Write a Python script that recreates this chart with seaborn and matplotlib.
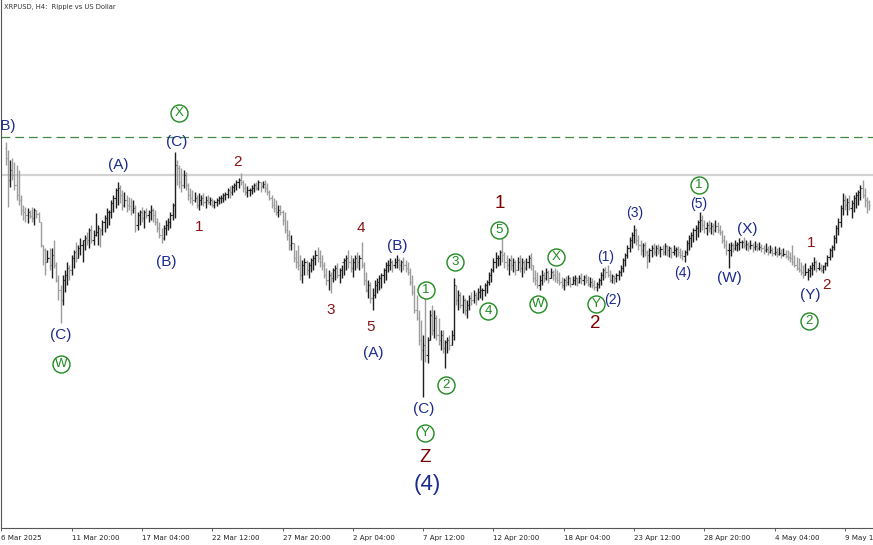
import numpy as np
import matplotlib
matplotlib.use("Agg")
import matplotlib.pyplot as plt
import seaborn as sns

# ---------------- data (XRPUSD H4) ----------------
title = "XRPUSD, H4:  Ripple vs US Dollar"
tick_labels = ["6 Mar 2025", "11 Mar 20:00", "17 Mar 04:00", "22 Mar 12:00",
               "27 Mar 20:00", "2 Apr 04:00", "7 Apr 12:00", "12 Apr 20:00",
               "18 Apr 04:00", "23 Apr 12:00", "28 Apr 20:00", "4 May 04:00",
               "9 May 12:00"]
tick_bars = [-2, 30, 62, 94, 126, 158, 190, 222, 254, 286, 318, 350, 382]

first_open = 2.600
high = [
    2.622, 2.590, 2.550, 2.558, 2.542, 2.530, 2.510, 2.410, 2.370, 2.362,
    2.358, 2.350, 2.362, 2.358, 2.350, 2.342, 2.302, 2.210, 2.198, 2.190,
    2.198, 2.198, 2.230, 2.142, 2.090, 2.050, 2.090, 2.110, 2.142, 2.130,
    2.170, 2.190, 2.222, 2.210, 2.238, 2.230, 2.250, 2.262, 2.278, 2.290,
    2.270, 2.338, 2.290, 2.278, 2.310, 2.330, 2.358, 2.350, 2.390, 2.410,
    2.438, 2.462, 2.450, 2.430, 2.422, 2.410, 2.402, 2.398, 2.390, 2.370,
    2.342, 2.350, 2.362, 2.350, 2.358, 2.350, 2.370, 2.358, 2.350, 2.318,
    2.302, 2.278, 2.290, 2.310, 2.318, 2.342, 2.378, 2.582, 2.550, 2.530,
    2.518, 2.510, 2.502, 2.458, 2.438, 2.430, 2.422, 2.410, 2.418, 2.410,
    2.418, 2.406, 2.410, 2.402, 2.398, 2.390, 2.398, 2.406, 2.410, 2.418,
    2.422, 2.438, 2.446, 2.450, 2.458, 2.470, 2.478, 2.498, 2.470, 2.458,
    2.446, 2.438, 2.450, 2.458, 2.462, 2.470, 2.462, 2.466, 2.470, 2.458,
    2.430, 2.410, 2.398, 2.390, 2.370, 2.370, 2.350, 2.342, 2.310, 2.270,
    2.250, 2.218, 2.190, 2.210, 2.170, 2.150, 2.158, 2.150, 2.142, 2.158,
    2.170, 2.190, 2.202, 2.190, 2.170, 2.142, 2.118, 2.110, 2.102, 2.118,
    2.130, 2.138, 2.118, 2.130, 2.158, 2.170, 2.190, 2.170, 2.158, 2.170,
    2.182, 2.170, 2.222, 2.142, 2.102, 2.070, 2.062, 2.038, 2.070, 2.078,
    2.090, 2.098, 2.118, 2.142, 2.150, 2.158, 2.150, 2.158, 2.170, 2.158,
    2.150, 2.162, 2.150, 2.142, 2.118, 2.090, 2.050, 2.010, 1.950, 1.910,
    1.850, 2.002, 1.842, 1.950, 1.970, 1.950, 1.930, 1.918, 1.870, 1.870,
    1.830, 1.842, 1.850, 1.870, 2.078, 2.050, 2.030, 2.022, 2.010, 1.998,
    1.990, 2.010, 2.022, 2.030, 2.022, 2.038, 2.050, 2.038, 2.058, 2.070,
    2.102, 2.118, 2.158, 2.182, 2.170, 2.190, 2.242, 2.182, 2.170, 2.158,
    2.170, 2.158, 2.150, 2.162, 2.170, 2.158, 2.150, 2.158, 2.170, 2.178,
    2.130, 2.110, 2.102, 2.090, 2.110, 2.102, 2.118, 2.110, 2.118, 2.110,
    2.118, 2.110, 2.102, 2.082, 2.078, 2.086, 2.090, 2.082, 2.086, 2.090,
    2.082, 2.090, 2.098, 2.090, 2.094, 2.086, 2.082, 2.078, 2.070, 2.062,
    2.078, 2.102, 2.118, 2.122, 2.130, 2.110, 2.094, 2.090, 2.098, 2.110,
    2.130, 2.158, 2.178, 2.210, 2.242, 2.262, 2.290, 2.278, 2.250, 2.230,
    2.218, 2.222, 2.190, 2.198, 2.210, 2.218, 2.210, 2.214, 2.206, 2.210,
    2.218, 2.210, 2.206, 2.202, 2.210, 2.202, 2.206, 2.198, 2.190, 2.190,
    2.230, 2.250, 2.262, 2.278, 2.290, 2.310, 2.342, 2.330, 2.310, 2.302,
    2.310, 2.302, 2.298, 2.310, 2.302, 2.290, 2.270, 2.250, 2.230, 2.218,
    2.222, 2.218, 2.230, 2.222, 2.238, 2.230, 2.242, 2.230, 2.222, 2.230,
    2.218, 2.226, 2.218, 2.222, 2.214, 2.210, 2.218, 2.206, 2.210, 2.202,
    2.206, 2.198, 2.202, 2.194, 2.198, 2.190, 2.190, 2.182, 2.210, 2.170,
    2.162, 2.158, 2.142, 2.130, 2.138, 2.118, 2.130, 2.142, 2.162, 2.150,
    2.142, 2.134, 2.130, 2.142, 2.170, 2.198, 2.210, 2.250, 2.290, 2.318,
    2.370, 2.418, 2.410, 2.398, 2.410, 2.390, 2.410, 2.422, 2.430, 2.450,
    2.470, 2.438, 2.402, 2.390]
low = [
    2.530, 2.362, 2.442, 2.470, 2.430, 2.390, 2.370, 2.330, 2.310, 2.302,
    2.298, 2.318, 2.302, 2.290, 2.318, 2.302, 2.202, 2.130, 2.090, 2.142,
    2.110, 2.078, 2.118, 2.062, 1.990, 1.898, 1.970, 2.022, 2.050, 2.070,
    2.090, 2.118, 2.142, 2.158, 2.170, 2.142, 2.190, 2.210, 2.198, 2.218,
    2.210, 2.246, 2.210, 2.202, 2.250, 2.262, 2.278, 2.290, 2.318, 2.342,
    2.358, 2.370, 2.378, 2.350, 2.362, 2.342, 2.350, 2.330, 2.338, 2.262,
    2.270, 2.290, 2.302, 2.278, 2.318, 2.302, 2.310, 2.302, 2.290, 2.262,
    2.238, 2.218, 2.230, 2.250, 2.270, 2.278, 2.310, 2.318, 2.450, 2.438,
    2.422, 2.438, 2.430, 2.390, 2.378, 2.370, 2.382, 2.358, 2.350, 2.370,
    2.366, 2.358, 2.374, 2.370, 2.362, 2.358, 2.366, 2.374, 2.378, 2.382,
    2.390, 2.398, 2.398, 2.410, 2.422, 2.430, 2.438, 2.450, 2.422, 2.410,
    2.402, 2.406, 2.414, 2.422, 2.430, 2.430, 2.422, 2.438, 2.422, 2.410,
    2.390, 2.358, 2.342, 2.330, 2.322, 2.330, 2.290, 2.258, 2.230, 2.190,
    2.190, 2.142, 2.118, 2.110, 2.070, 2.058, 2.090, 2.090, 2.078, 2.102,
    2.110, 2.130, 2.142, 2.122, 2.110, 2.078, 2.050, 2.030, 2.018, 2.062,
    2.070, 2.078, 2.058, 2.078, 2.090, 2.110, 2.118, 2.102, 2.082, 2.110,
    2.118, 2.110, 2.118, 2.050, 2.022, 1.998, 1.978, 1.950, 1.998, 2.018,
    2.030, 2.038, 2.058, 2.070, 2.102, 2.110, 2.102, 2.118, 2.118, 2.110,
    2.102, 2.110, 2.102, 2.090, 2.050, 2.010, 1.938, 1.910, 1.810, 1.750,
    1.602, 1.742, 1.738, 1.830, 1.850, 1.838, 1.830, 1.810, 1.790, 1.778,
    1.718, 1.778, 1.790, 1.810, 1.830, 1.970, 1.950, 1.958, 1.938, 1.930,
    1.918, 1.950, 1.970, 1.978, 1.970, 1.990, 1.998, 1.990, 2.006, 2.018,
    2.050, 2.062, 2.102, 2.118, 2.126, 2.130, 2.142, 2.118, 2.110, 2.090,
    2.110, 2.102, 2.090, 2.110, 2.102, 2.082, 2.098, 2.110, 2.118, 2.110,
    2.062, 2.050, 2.038, 2.030, 2.050, 2.062, 2.070, 2.058, 2.078, 2.070,
    2.062, 2.058, 2.050, 2.038, 2.030, 2.046, 2.050, 2.042, 2.054, 2.050,
    2.046, 2.058, 2.054, 2.050, 2.058, 2.046, 2.042, 2.038, 2.030, 2.026,
    2.038, 2.050, 2.070, 2.078, 2.082, 2.062, 2.058, 2.054, 2.062, 2.070,
    2.086, 2.102, 2.126, 2.158, 2.182, 2.198, 2.218, 2.210, 2.190, 2.170,
    2.162, 2.166, 2.118, 2.142, 2.162, 2.170, 2.166, 2.174, 2.162, 2.170,
    2.170, 2.166, 2.162, 2.158, 2.170, 2.162, 2.166, 2.158, 2.150, 2.142,
    2.170, 2.190, 2.202, 2.222, 2.230, 2.242, 2.262, 2.270, 2.258, 2.250,
    2.262, 2.254, 2.250, 2.262, 2.258, 2.250, 2.218, 2.198, 2.170, 2.118,
    2.166, 2.182, 2.190, 2.186, 2.190, 2.198, 2.198, 2.190, 2.186, 2.194,
    2.182, 2.190, 2.186, 2.190, 2.182, 2.174, 2.182, 2.170, 2.178, 2.166,
    2.170, 2.162, 2.170, 2.158, 2.166, 2.158, 2.150, 2.142, 2.130, 2.122,
    2.110, 2.102, 2.090, 2.078, 2.090, 2.070, 2.082, 2.090, 2.110, 2.102,
    2.110, 2.102, 2.098, 2.110, 2.126, 2.150, 2.162, 2.190, 2.218, 2.250,
    2.282, 2.330, 2.350, 2.330, 2.350, 2.318, 2.342, 2.358, 2.370, 2.390,
    2.398, 2.362, 2.338, 2.350]
close = [
    2.558, 2.470, 2.510, 2.490, 2.450, 2.410, 2.390, 2.350, 2.342, 2.330,
    2.342, 2.326, 2.318, 2.350, 2.334, 2.302, 2.210, 2.190, 2.110, 2.158,
    2.130, 2.170, 2.130, 2.070, 2.030, 1.990, 2.070, 2.090, 2.118, 2.110,
    2.158, 2.182, 2.158, 2.198, 2.210, 2.230, 2.238, 2.230, 2.270, 2.230,
    2.250, 2.262, 2.278, 2.270, 2.302, 2.318, 2.342, 2.342, 2.378, 2.398,
    2.430, 2.438, 2.410, 2.370, 2.390, 2.370, 2.366, 2.350, 2.358, 2.290,
    2.330, 2.342, 2.318, 2.342, 2.330, 2.342, 2.350, 2.330, 2.302, 2.278,
    2.250, 2.238, 2.278, 2.290, 2.302, 2.330, 2.370, 2.530, 2.518, 2.462,
    2.450, 2.490, 2.450, 2.410, 2.398, 2.390, 2.398, 2.370, 2.390, 2.398,
    2.382, 2.390, 2.382, 2.390, 2.370, 2.382, 2.390, 2.398, 2.398, 2.410,
    2.414, 2.430, 2.422, 2.442, 2.450, 2.462, 2.470, 2.462, 2.438, 2.422,
    2.430, 2.430, 2.438, 2.450, 2.438, 2.462, 2.446, 2.454, 2.438, 2.422,
    2.398, 2.370, 2.358, 2.342, 2.350, 2.342, 2.310, 2.270, 2.250, 2.210,
    2.218, 2.158, 2.142, 2.130, 2.090, 2.130, 2.142, 2.110, 2.130, 2.150,
    2.158, 2.170, 2.158, 2.142, 2.130, 2.090, 2.070, 2.090, 2.078, 2.110,
    2.118, 2.090, 2.110, 2.142, 2.150, 2.158, 2.142, 2.118, 2.142, 2.158,
    2.142, 2.158, 2.130, 2.070, 2.030, 2.050, 1.998, 2.010, 2.050, 2.062,
    2.078, 2.090, 2.110, 2.130, 2.130, 2.142, 2.130, 2.142, 2.150, 2.130,
    2.142, 2.130, 2.118, 2.102, 2.062, 2.022, 1.950, 1.918, 1.830, 1.790,
    1.810, 1.770, 1.830, 1.930, 1.870, 1.918, 1.850, 1.830, 1.850, 1.798,
    1.822, 1.830, 1.810, 1.850, 2.050, 1.990, 2.010, 1.970, 1.990, 1.950,
    1.970, 1.998, 1.990, 2.010, 1.998, 2.022, 2.030, 2.030, 2.050, 2.062,
    2.090, 2.110, 2.142, 2.158, 2.158, 2.182, 2.170, 2.142, 2.130, 2.150,
    2.130, 2.142, 2.110, 2.142, 2.118, 2.142, 2.118, 2.142, 2.158, 2.130,
    2.078, 2.070, 2.050, 2.070, 2.090, 2.078, 2.102, 2.070, 2.102, 2.090,
    2.078, 2.070, 2.062, 2.050, 2.070, 2.062, 2.078, 2.054, 2.070, 2.078,
    2.062, 2.078, 2.070, 2.082, 2.070, 2.054, 2.062, 2.050, 2.042, 2.054,
    2.070, 2.090, 2.110, 2.102, 2.090, 2.070, 2.086, 2.078, 2.090, 2.102,
    2.118, 2.150, 2.170, 2.198, 2.230, 2.250, 2.270, 2.230, 2.210, 2.190,
    2.210, 2.182, 2.170, 2.190, 2.198, 2.182, 2.198, 2.190, 2.194, 2.182,
    2.206, 2.190, 2.198, 2.182, 2.190, 2.194, 2.182, 2.170, 2.166, 2.182,
    2.218, 2.238, 2.250, 2.270, 2.278, 2.302, 2.310, 2.290, 2.278, 2.290,
    2.278, 2.286, 2.270, 2.286, 2.270, 2.262, 2.230, 2.210, 2.190, 2.190,
    2.210, 2.198, 2.210, 2.214, 2.222, 2.222, 2.210, 2.214, 2.206, 2.210,
    2.202, 2.206, 2.198, 2.202, 2.198, 2.190, 2.194, 2.182, 2.190, 2.178,
    2.182, 2.174, 2.178, 2.170, 2.174, 2.166, 2.162, 2.158, 2.142, 2.130,
    2.118, 2.110, 2.102, 2.090, 2.102, 2.110, 2.118, 2.130, 2.142, 2.118,
    2.118, 2.110, 2.126, 2.138, 2.162, 2.190, 2.202, 2.238, 2.278, 2.302,
    2.358, 2.390, 2.370, 2.382, 2.358, 2.378, 2.398, 2.410, 2.422, 2.438,
    2.410, 2.390, 2.382, 2.370]

# reference levels drawn on the chart
dashed_level = 2.642
grey_level = 2.490

# wave labels: (text, bar index, price, style)
wave_labels = [
    ("(B)", -0.3, 2.686, "navy"),
    ("X", 78.9, 2.738, "circle"),
    ("(C)", 78.0, 2.622, "navy"),
    ("(A)", 51.1, 2.530, "navy"),
    ("2", 105.3, 2.542, "red"),
    ("1", 88.0, 2.282, "red"),
    ("(B)", 73.0, 2.142, "navy"),
    ("(C)", 25.2, 1.850, "navy"),
    ("W", 25.2, 1.734, "circle"),
    ("3", 148.1, 1.950, "red"),
    ("4", 161.7, 2.278, "red"),
    ("5", 166.3, 1.882, "red"),
    ("(A)", 167.2, 1.778, "navy"),
    ("(B)", 178.1, 2.206, "navy"),
    ("1", 191.3, 2.030, "circle"),
    ("(C)", 190.4, 1.554, "navy"),
    ("Y", 190.8, 1.458, "circle"),
    ("Z", 190.8, 1.362, "bigred"),
    ("(4)", 191.8, 1.254, "bignavy"),
    ("2", 200.4, 1.650, "circle"),
    ("3", 204.5, 2.142, "circle"),
    ("4", 219.5, 1.946, "circle"),
    ("5", 224.5, 2.270, "circle"),
    ("1", 225.0, 2.374, "bigred"),
    ("W", 242.3, 1.974, "circle"),
    ("X", 250.5, 2.162, "circle"),
    ("Y", 268.7, 1.974, "circle"),
    ("2", 268.2, 1.898, "bigred"),
    ("(1)", 273.2, 2.162, "navynum"),
    ("(2)", 276.4, 1.990, "navynum"),
    ("(3)", 286.4, 2.338, "navynum"),
    ("(4)", 308.3, 2.098, "navynum"),
    ("(5)", 315.6, 2.374, "navynum"),
    ("1", 315.6, 2.450, "circle"),
    ("(W)", 329.2, 2.078, "navy"),
    ("(X)", 337.4, 2.274, "navy"),
    ("1", 366.5, 2.218, "red"),
    ("2", 373.4, 2.050, "red"),
    ("(Y)", 366.1, 2.010, "navy"),
    ("2", 365.6, 1.906, "circle"),
]

# ---------------- drawing ----------------
sns.set_theme(style="white")
plt.rcParams["font.family"] = ["DejaVu Sans"]

W, H = 873, 545
fig = plt.figure(figsize=(W / 100, H / 100), dpi=100)
fig.patch.set_facecolor("white")

px_per_bar = 2.197
x_left = -2.0
axes_left_px = 5.7 + x_left * px_per_bar
axes_bottom_px = 17
ax = fig.add_axes([axes_left_px / W, axes_bottom_px / H,
                   (W - axes_left_px + 2) / W, (H - axes_bottom_px) / H])
ax.set_facecolor("white")
n = min(len(high), len(low), len(close))
ax.set_xlim(x_left, x_left + (W - axes_left_px + 2) / px_per_bar)
ax.set_ylim(1.078, 3.190)

hi = np.array(high[:n]); lo = np.array(low[:n]); cl = np.array(close[:n])
op = np.concatenate([[first_open], cl[:-1]])
op = np.clip(op, lo, hi)
xs = np.arange(n)
up_col, dn_col = "#1e1e1e", "#9c9c9c"
cols = [up_col if c >= o else dn_col for o, c in zip(op, cl)]

ax.axhline(grey_level, color="#d2d2d2", lw=1.6, zorder=1)
ax.axhline(dashed_level, color="#3f8a3f", lw=0.9, dashes=(7, 4), zorder=1)

ax.vlines(xs, lo, hi, colors=cols, lw=1.0, zorder=3)
ax.hlines(op, xs - 0.5, xs, colors=cols, lw=0.8, zorder=3)
ax.hlines(cl, xs, xs + 0.5, colors=cols, lw=0.8, zorder=3)

lab_font = ["Liberation Sans", "DejaVu Sans"]
navy = "#1b2a8c"
red = "#8a1414"
green = "#1f8a1f"
styles = {
    "navy": dict(color=navy, fontsize=11),
    "navynum": dict(color=navy, fontsize=10),
    "bignavy": dict(color=navy, fontsize=16),
    "red": dict(color=red, fontsize=11),
    "bigred": dict(color="#7d0000", fontsize=13.5),
}
for txt, bx, py, st in wave_labels:
    if st == "circle":
        ax.scatter([bx], [py], s=150, facecolors="white", edgecolors=green,
                   linewidths=1.0, zorder=5, clip_on=False)
        ax.text(bx, py, txt, ha="center", va="center", color=green,
                fontsize=9.5, family=lab_font, zorder=6, clip_on=False)
    else:
        ax.text(bx, py, txt, ha="center", va="center", family=lab_font,
                zorder=6, clip_on=False, **styles[st])

ax.set_xticks(tick_bars)
ax.set_xticklabels(tick_labels, ha="left", fontsize=5.1, color="#222222")
ax.tick_params(axis="x", direction="out", length=2.5, width=0.6,
               color="#444444", pad=2.5, bottom=True)
ax.set_yticks([])
for s in ["top", "right"]:
    ax.spines[s].set_visible(False)
for s in ["left", "bottom"]:
    ax.spines[s].set_color("#555555")
    ax.spines[s].set_linewidth(0.8)
ax.grid(False)

fig.text(4 / W, 1 - 7.5 / H, title, ha="left", va="center", fontsize=4.9,
         color="#333333")

fig.savefig("out.png", dpi=100, facecolor="white")
